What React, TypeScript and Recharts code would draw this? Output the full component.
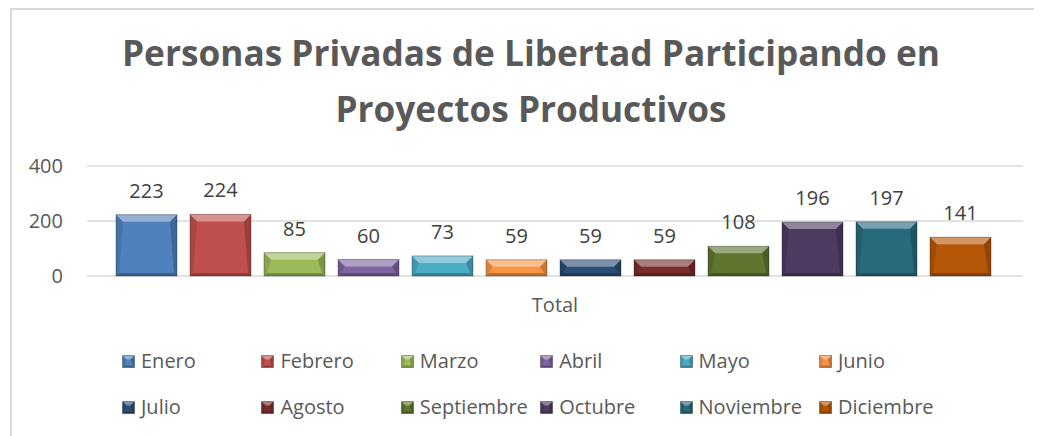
import React from 'react';
import { BarChart, Bar, XAxis, YAxis, CartesianGrid, LabelList } from 'recharts';

const categories = ['Total'];
const months = ['Enero', 'Febrero', 'Marzo', 'Abril', 'Mayo', 'Junio', 'Julio', 'Agosto', 'Septiembre', 'Octubre', 'Noviembre', 'Diciembre'];
const values = [223, 224, 85, 60, 73, 59, 59, 59, 108, 196, 197, 141];
const colors = ['#4F81BD', '#C0504D', '#9BBB59', '#8064A2', '#4BACC6', '#F79646', '#2C4D75', '#772C2A', '#5F7530', '#4D3B62', '#276A7C', '#B65708'];
const yTicks = [0, 200, 400];
const titleLines = ['Personas Privadas de Libertad Participando en', 'Proyectos Productivos'];

const data = categories.map((c) => {
  const row: any = { name: c };
  months.forEach((m, i) => {
    row[m] = values[i];
  });
  return row;
});

const FONT = '"Open Sans", sans-serif';

const Bevel = ({ x, y, w, h, fill, top, side }: any) => {
  const t = Math.min(top, h / 2, w / 2);
  const s = Math.min(side, h / 2, w / 2);
  return (
    <g>
      <rect x={x} y={y} width={w} height={h} fill={fill} />
      <polygon points={`${x},${y} ${x + w},${y} ${x + w - t},${y + t} ${x + t},${y + t}`} fill="#fff" fillOpacity={0.38} />
      <polygon points={`${x},${y} ${x + t},${y + t} ${x + s},${y + h - s} ${x},${y + h}`} fill="#000" fillOpacity={0.12} />
      <polygon points={`${x + w},${y} ${x + w},${y + h} ${x + w - s},${y + h - s} ${x + w - t},${y + t}`} fill="#000" fillOpacity={0.2} />
      <polygon points={`${x},${y + h} ${x + w},${y + h} ${x + w - s},${y + h - s} ${x + s},${y + h - s}`} fill="#000" fillOpacity={0.25} />
      <rect x={x} y={y} width={w} height={h} fill="none" stroke="#000" strokeOpacity={0.3} strokeWidth={1} />
    </g>
  );
};

const BevelBar = (props: any) => {
  const { x, y, width, height, fill } = props;
  if (!(height > 0)) return null;
  return <Bevel x={x} y={y} w={width} h={height} fill={fill} top={7} side={3} />;
};

export default function App() {
  return (
    <div style={{ position: 'relative', width: 1034, height: 428, background: '#fff', overflow: 'hidden' }}>
      <div
        style={{
          position: 'absolute',
          left: 2,
          top: 0,
          width: 1040,
          height: 440,
          borderLeft: '2px solid #D9D9D9',
          borderTop: '2px solid #D9D9D9',
          boxSizing: 'border-box',
        }}
      />
      <svg width={1034} height={140} style={{ position: 'absolute', left: 0, top: 0 }}>
        <text x={523} y={58} textAnchor="middle" fontFamily={FONT} fontWeight={700} fontSize={35} fill="#595959" textLength={818} lengthAdjust="spacingAndGlyphs">
          {titleLines[0]}
        </text>
        <text x={523} y={113.5} textAnchor="middle" fontFamily={FONT} fontWeight={700} fontSize={35} fill="#595959" textLength={391} lengthAdjust="spacingAndGlyphs">
          {titleLines[1]}
        </text>
      </svg>
      <div style={{ position: 'absolute', left: 0, top: 0 }}>
        <BarChart
          width={1034}
          height={428}
          data={data}
          margin={{ top: 158, right: 19, bottom: 120, left: 0 }}
          barCategoryGap={29}
          barGap={13}
        >
          <CartesianGrid horizontal vertical={false} stroke="#D9D9D9" strokeWidth={1.5} />
          <XAxis
            dataKey="name"
            height={40}
            axisLine={false}
            tickLine={false}
            tickSize={0}
            tickMargin={22}
            tick={{ fill: '#595959', fontSize: 20, fontFamily: FONT }}
          />
          <YAxis
            width={79}
            domain={[0, 400]}
            ticks={yTicks}
            axisLine={false}
            tickLine={false}
            tickSize={0}
            tickMargin={24}
            tick={{ fill: '#595959', fontSize: 20, fontFamily: FONT }}
          />
          {months.map((m, i) => (
            <Bar key={m} dataKey={m} fill={colors[i]} shape={BevelBar} isAnimationActive={false}>
              <LabelList dataKey={m} position="top" offset={17} fill="#404040" fontSize={20} fontFamily={FONT} />
            </Bar>
          ))}
        </BarChart>
      </div>
      <div
        style={{
          position: 'absolute',
          left: 114,
          top: 330,
          display: 'grid',
          gridTemplateColumns: 'repeat(6, 139.4px)',
          gridAutoRows: '46px',
          alignItems: 'center',
        }}
      >
        {months.map((m, i) => (
          <div key={m} style={{ display: 'flex', alignItems: 'center', whiteSpace: 'nowrap', height: 20 }}>
            <svg width={13} height={13} style={{ marginRight: 6, flex: 'none' }}>
              <Bevel x={0.5} y={0.5} w={12} h={12} fill={colors[i]} top={4} side={2} />
            </svg>
            <span style={{ fontFamily: FONT, fontSize: 20, color: '#595959', lineHeight: '20px' }}>{m}</span>
          </div>
        ))}
      </div>
    </div>
  );
}
